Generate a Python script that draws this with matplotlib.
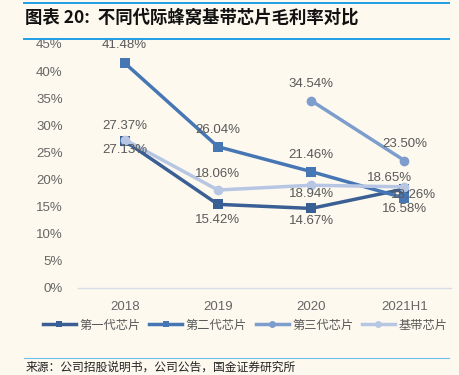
import numpy as np
import matplotlib.pyplot as plt
from matplotlib.lines import Line2D

plt.rcParams['font.family'] = ['Liberation Sans', 'Noto Sans CJK SC', 'DejaVu Sans']

years = ["2018", "2019", "2020", "2021H1"]
gen1 = [27.13, 15.42, 14.67, 18.26]
gen2 = [41.48, 26.04, 21.46, 16.58]
gen3 = [np.nan, np.nan, 34.54, 23.50]
base = [27.37, 18.06, 18.94, 18.65]
names = ["第一代芯片", "第二代芯片", "第三代芯片", "基带芯片"]
colors = ["#3A5F94", "#4676B3", "#7D9DCD", "#B6C6E3"]
markers = ["s", "s", "o", "o"]

# label offsets (points) per series, per year
offsets = {
    0: [(0, -6.5), (0, -11), (0, -9), (6.5, -4.3)],
    1: [(0, 13), (0, 12), (0, 12), (0, -8)],
    2: [None, None, (0, 12), (0, 12)],
    3: [(0, 9.5), (0, 11.5), (0, -6.5), (-11, 6.5)],
}

bg = "#FDF9EF"
fig = plt.figure(figsize=(4.59, 3.75), dpi=100, facecolor=bg)
ax = fig.add_axes([0.17, 0.232, 0.8126, 0.651])
ax.set_facecolor(bg)

x = np.arange(len(years))
series = [gen1, gen2, gen3, base]
for i, s in enumerate(series):
    ax.plot(x, s, color=colors[i], lw=2.5, marker=markers[i], ms=7,
            markeredgewidth=0, zorder=3 + i, clip_on=False)
    for j, v in enumerate(s):
        if np.isnan(v):
            continue
        off = offsets[i][j]
        ax.annotate(f"{v:.2f}%", (x[j], v), xytext=off, textcoords="offset points",
                    ha="center", va="center", fontsize=9.5, color="#595959", zorder=10)

ax.set_xlim(-0.5, 3.5)
ax.set_ylim(0, 45)
ax.set_yticks(np.arange(0, 46, 5))
ax.set_yticklabels([f"{t}%" for t in range(0, 46, 5)])
ax.set_xticks(x)
ax.set_xticklabels(years)
ax.tick_params(axis="both", length=0, labelsize=9.5, labelcolor="#666666")
ax.tick_params(axis="x", pad=9)
ax.tick_params(axis="y", pad=11)
for sp in ["top", "right", "left"]:
    ax.spines[sp].set_visible(False)
ax.spines["bottom"].set_color("#D9DDE6")
ax.spines["bottom"].set_linewidth(1.0)

handles = [Line2D([0], [0], color=colors[i], lw=2.5, marker=markers[i], ms=5,
                  markeredgewidth=0) for i in range(4)]
fig.legend(handles, names, loc="center", bbox_to_anchor=(0.534, 0.133), ncol=4,
           frameon=False, handlelength=2.7, columnspacing=0.7,
           handletextpad=0.3, labelcolor="#595959",
           prop={'family': ['Noto Sans CJK SC'], 'size': 8.8})

# header and footer
fig.add_artist(Line2D([0.052, 0.978], [0.991, 0.991], color="#1E9FE6", lw=1.4))
fig.add_artist(Line2D([0.052, 0.978], [0.896, 0.896], color="#1E9FE6", lw=1.4))
fig.add_artist(Line2D([0.052, 0.978], [0.045, 0.045], color="#6CC0EE", lw=0.8))
fig.text(0.055, 0.952, "图表 20:  不同代际蜂窝基带芯片毛利率对比", fontsize=12.5,
         fontweight="bold", style="italic", va="center", color="#111111",
         family=['Noto Sans CJK SC', 'DejaVu Sans'])
fig.text(0.055, 0.02, "来源：公司招股说明书，公司公告，国金证券研究所", fontsize=8.5,
         va="center", color="#222222", family=['Noto Sans CJK SC', 'DejaVu Sans'])

fig.savefig("out.png", dpi=100, facecolor=bg)
